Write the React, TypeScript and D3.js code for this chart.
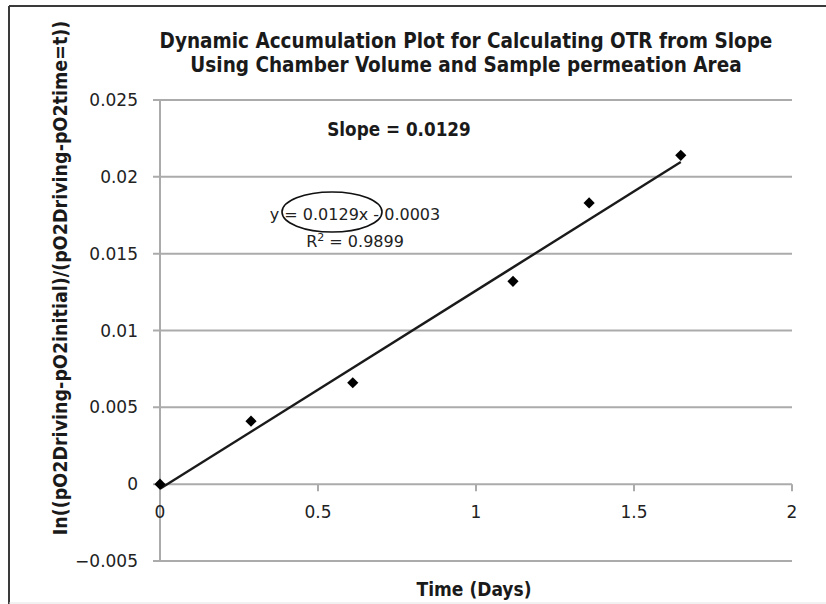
import * as d3 from "d3";
import React, { useEffect, useRef } from "react";

// measured points (time in days vs ln ratio)
const timeDays = [0, 0.288, 0.61, 1.117, 1.358, 1.648];
const lnRatio = [0, 0.0041, 0.0066, 0.0132, 0.0183, 0.0214];

const yTicks = [-0.005, 0, 0.005, 0.01, 0.015, 0.02, 0.025];
const xTicks = [0, 0.5, 1, 1.5, 2];

const slope = 0.0129;
const intercept = -0.0003;
const rSquared = 0.9899;

const titleLines = [
  "Dynamic Accumulation Plot for Calculating OTR from Slope",
  "Using Chamber Volume and Sample permeation Area",
];
const yLabel = "In((pO2Driving-pO2initial)/(pO2Driving-pO2time=t))";
const xLabel = "Time (Days)";

const App = () => {
  const svgRef = useRef<SVGSVGElement>(null);
  const width = 826;
  const height = 604;

  useEffect(() => {
    const svg = d3.select(svgRef.current);
    svg.selectAll("*").remove();

    const font = "'DejaVu Sans', sans-serif";
    const fontCond = "'DejaVu Sans Condensed', 'DejaVu Sans', sans-serif";
    const gridColor = "#ababab";

    const x = d3.scaleLinear().domain([0, 2]).range([160, 792]);
    const y = d3.scaleLinear().domain([-0.005, 0.025]).range([561, 100]);

    // frame around the chart
    svg.append("line").attr("x1", 9).attr("x2", width).attr("y1", 6).attr("y2", 6)
      .attr("stroke", "#3a3a3a").attr("stroke-width", 2);
    svg.append("line").attr("x1", 9).attr("x2", 9).attr("y1", 6).attr("y2", height)
      .attr("stroke", "#3a3a3a").attr("stroke-width", 2);
    svg.append("line").attr("x1", 9).attr("x2", width).attr("y1", 603).attr("y2", 603)
      .attr("stroke", "#e4e4e4").attr("stroke-width", 1);

    // horizontal gridlines + left ticks
    yTicks.forEach(t => {
      svg.append("line")
        .attr("x1", x(0) - 7).attr("x2", x(2))
        .attr("y1", y(t)).attr("y2", y(t))
        .attr("stroke", gridColor).attr("stroke-width", 2);
      svg.append("text")
        .attr("x", 138).attr("y", y(t) + 6)
        .attr("text-anchor", "end")
        .attr("font-family", font).attr("font-size", 17)
        .attr("fill", "#222")
        .text(t < 0 ? "\u2212" + d3.format("")(-t) : d3.format("")(t));
    });

    // y axis line
    svg.append("line")
      .attr("x1", x(0)).attr("x2", x(0))
      .attr("y1", y(0.025)).attr("y2", y(-0.005))
      .attr("stroke", gridColor).attr("stroke-width", 2);

    // x ticks and labels on the zero line
    xTicks.forEach(t => {
      if (t > 0) {
        svg.append("line")
          .attr("x1", x(t)).attr("x2", x(t))
          .attr("y1", y(0)).attr("y2", y(0) + 7)
          .attr("stroke", gridColor).attr("stroke-width", 2);
      }
      svg.append("text")
        .attr("x", x(t)).attr("y", y(0) + 34)
        .attr("text-anchor", "middle")
        .attr("font-family", font).attr("font-size", 17)
        .attr("fill", "#222")
        .text(d3.format("")(t));
    });

    // trendline
    const xMax = d3.max(timeDays) as number;
    svg.append("line")
      .attr("x1", x(0)).attr("y1", y(intercept))
      .attr("x2", x(xMax)).attr("y2", y(slope * xMax + intercept))
      .attr("stroke", "#1a1a1a").attr("stroke-width", 2.4);

    // data markers (diamonds)
    const diamond = d3.symbol().type(d3.symbolDiamond2).size(80);
    timeDays.forEach((t, i) => {
      svg.append("path")
        .attr("d", diamond())
        .attr("transform", `translate(${x(t)},${y(lnRatio[i])})`)
        .attr("fill", "#000");
    });

    // title
    titleLines.forEach((line, i) => {
      svg.append("text")
        .attr("x", 466).attr("y", 48 + i * 24)
        .attr("text-anchor", "middle")
        .attr("font-family", fontCond).attr("font-weight", "bold")
        .attr("font-size", 20.5)
        .attr("fill", "#1a1a1a")
        .text(line);
    });

    // slope annotation
    svg.append("text")
      .attr("x", 399).attr("y", 136)
      .attr("text-anchor", "middle")
      .attr("font-family", fontCond).attr("font-weight", "bold")
      .attr("font-size", 18.7)
      .attr("fill", "#1a1a1a")
      .text(`Slope = ${slope}`);

    // trendline equation
    svg.append("text")
      .attr("x", 355).attr("y", 220)
      .attr("text-anchor", "middle")
      .attr("font-family", font).attr("font-size", 16)
      .attr("fill", "#222")
      .text(`y = ${slope}x - ${Math.abs(intercept)}`);
    const r2 = svg.append("text")
      .attr("x", 355).attr("y", 247)
      .attr("text-anchor", "middle")
      .attr("font-family", font).attr("font-size", 16)
      .attr("fill", "#222");
    r2.append("tspan").text("R");
    r2.append("tspan").attr("dy", -6).attr("font-size", 11).text("2");
    r2.append("tspan").attr("dy", 6).text(` = ${rSquared}`);

    // hand-drawn ellipse around the slope term
    svg.append("ellipse")
      .attr("cx", 332).attr("cy", 212)
      .attr("rx", 50).attr("ry", 20)
      .attr("fill", "none")
      .attr("stroke", "#111").attr("stroke-width", 1.6);

    // axis titles
    svg.append("text")
      .attr("transform", "rotate(-90)")
      .attr("x", -278).attr("y", 67)
      .attr("text-anchor", "middle")
      .attr("font-family", fontCond).attr("font-weight", "bold")
      .attr("font-size", 19.5)
      .attr("fill", "#1a1a1a")
      .text(yLabel);

    svg.append("text")
      .attr("x", 474).attr("y", 596)
      .attr("text-anchor", "middle")
      .attr("font-family", fontCond).attr("font-weight", "bold")
      .attr("font-size", 19)
      .attr("fill", "#1a1a1a")
      .text(xLabel);
  }, []);

  return (
    <svg
      ref={svgRef}
      width={width}
      height={height}
      style={{ position: "absolute", left: 0, top: 0, background: "#fff" }}
    />
  );
};

export default App;
